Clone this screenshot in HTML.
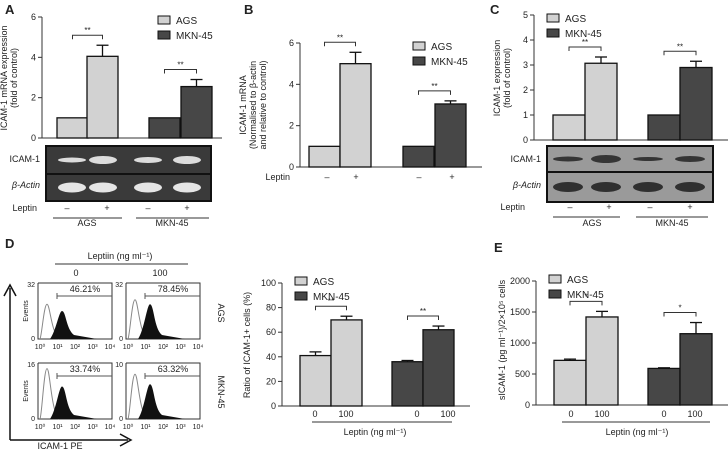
<!DOCTYPE html>
<html><head><meta charset="utf-8">
<style>
html,body{margin:0;padding:0;background:#fff;}
svg{display:block;font-family:"Liberation Sans",Arial,sans-serif;}
text{fill:#222;}
</style></head>
<body>
<svg id="fig" width="728" height="452" viewBox="0 0 728 452" xmlns="http://www.w3.org/2000/svg"></svg>
<script>
// ---- data ----
const groupsA = ["AGS","MKN-45"];
const valuesA = [1, 4.05, 1, 2.55];
const errorsA = [0, 0.55, 0, 0.35];
const ticksA = [0,2,4,6];
const valuesB = [1, 5.0, 1, 3.05];
const errorsB = [0, 0.55, 0, 0.15];
const ticksB = [0,2,4,6];
const valuesC = [1, 3.07, 1, 2.9];
const errorsC = [0, 0.25, 0, 0.25];
const ticksC = [0,1,2,3,4,5];
const valuesD = [41, 70, 36, 62];
const errorsD = [3, 3, 1, 3];
const ticksD = [0,20,40,60,80,100];
const valuesE = [720, 1420, 590, 1150];
const errorsE = [20, 90, 10, 180];
const ticksE = [0,500,1000,1500,2000];
const sigA = ["**","**"], sigE = ["*","*"];
const flowPercents = ["46.21%","78.45%","33.74%","63.32%"];
const flowLogTicks = ["10⁰","10¹","10²","10³","10⁴"];
const flowYmax = ["32","32","16","10"];

const svg = document.getElementById('fig');
const NS = "http://www.w3.org/2000/svg";
function el(tag, attrs, parent){
  const e = document.createElementNS(NS, tag);
  for (const k in attrs) e.setAttribute(k, attrs[k]);
  (parent||svg).appendChild(e);
  return e;
}
function txt(x,y,s,size,anchor,extra,parent){
  const t = el('text', Object.assign({x:x,y:y,'font-size':size||9,'text-anchor':anchor||'middle'}, extra||{}), parent);
  t.textContent = s;
  return t;
}

function barChart(o){
  const g = el('g', {});
  
  
  const ymax = o.ticks[o.ticks.length-1];
  const ys = v => o.y0 - (v/ymax)*(o.y0-o.yTop);
  el('line',{x1:o.ax,y1:o.yTop,x2:o.ax,y2:o.y0,stroke:'#333','stroke-width':1},g);
  el('line',{x1:o.ax,y1:o.y0,x2:o.axEnd,y2:o.y0,stroke:'#333','stroke-width':1},g);
  o.ticks.forEach(t=>{
    const y = ys(t);
    el('line',{x1:o.ax-4,y1:y,x2:o.ax,y2:y,stroke:'#333'},g);
    const tt = txt(o.ax-6,y+3,String(t),9,'end',{},g);
    
    
  });
  o.values.forEach((v,i)=>{
    const x = o.bx[i], w = o.bw;
    const r = el('rect',{x:x,y:ys(v),width:w,height:o.y0-ys(v),fill:i<2?'#d2d2d2':'#474747',stroke:'#111','stroke-width':1.3},g);
    
    
    if (o.errors[i]>0){
      const ey = ys(v+o.errors[i]);
      el('line',{x1:x+w/2,y1:ys(v),x2:x+w/2,y2:ey,stroke:'#111','stroke-width':1.3},g);
      el('line',{x1:x+w/2-6,y1:ey,x2:x+w/2+6,y2:ey,stroke:'#111','stroke-width':1.3},g);
    }
  });
  [0,2].forEach((i,k)=>{
    const x1 = o.bx[i]+o.bw/2, x2 = o.bx[i+1]+o.bw/2;
    const top = ys(o.values[i+1]+o.errors[i+1]) - 10;
    el('path',{d:`M${x1} ${top+4}V${top}H${x2}V${top+4}`,fill:'none',stroke:'#333'},g);
    txt((x1+x2)/2,top-2,o.sig[k],8,'middle',{},g);
  });
  [["AGS",'#d2d2d2'],["MKN-45",'#474747']].forEach((L,k)=>{
    const ly = o.legY + k*15;
    const r = el('rect',{x:o.legX,y:ly,width:12,height:8,fill:L[1],stroke:'#111'},g);
    
    
    txt(o.legX+18,ly+8,L[0],10,'start',{},g);
  });
  const lines = o.ylabel;
  lines.forEach((s,k)=>{
    const x = o.ylx + k*10 - (lines.length-1)*5;
    const t = txt(x,o.yly,s,9,'middle',{transform:`rotate(-90 ${x} ${o.yly})`},g);
    
    
  });
  return g;
}

[["A",5,14],["B",244,14],["C",490,14],["D",5,248],["E",494,252]].forEach(p=>{
  const t = txt(p[1],p[2],p[0],13,'start',{'font-weight':'bold'});
  
  
});

barChart({name:'chart-a',values:valuesA,errors:errorsA,ticks:ticksA,ax:42,axEnd:222,y0:138,yTop:17,bx:[57,87,149,181],bw:31,sig:sigA,legX:158,legY:16,ylabel:["ICAM-1 mRNA expression","(fold of control)"],ylx:12,yly:78});
barChart({name:'chart-b',values:valuesB,errors:errorsB,ticks:ticksB,ax:300,axEnd:482,y0:167,yTop:43,bx:[309,340,403,435],bw:31,sig:sigA,legX:413,legY:42,ylabel:["ICAM-1 mRNA","(Normalised to β-actin","and relative to control)"],ylx:256,yly:105});
barChart({name:'chart-c',values:valuesC,errors:errorsC,ticks:ticksC,ax:534,axEnd:728,y0:140,yTop:15,bx:[553,585,648,680],bw:32,sig:sigA,legX:547,legY:14,ylabel:["ICAM-1 expression","(fold of control)"],ylx:505,yly:78});
barChart({name:'chart-d-bars',values:valuesD,errors:errorsD,ticks:ticksD,ax:282,axEnd:470,y0:406,yTop:283,bx:[300,331,392,423],bw:31,sig:sigA,legX:295,legY:277,ylabel:["Ratio of ICAM-1+ cells (%)"],ylx:250,yly:345});
barChart({name:'chart-e',values:valuesE,errors:errorsE,ticks:ticksE,ax:536,axEnd:728,y0:405,yTop:281,bx:[554,586,648,680],bw:32,sig:sigE,legX:549,legY:275,ylabel:["sICAM-1 (pg ml⁻¹)/2×10⁵ cells"],ylx:505,yly:340});

function gel(name,x,y,w,h,split,bg,bandColor,bx,bw,widths){
  const g = el('g',{});
  
  
  el('rect',{x:x,y:y,width:w,height:h,fill:bg,stroke:'#111','stroke-width':2},g);
  el('line',{x1:x,y1:split,x2:x+w,y2:split,stroke:'#111','stroke-width':2},g);
  bx.forEach((cx,i)=>{
    el('ellipse',{cx:cx,cy:(y+split)/2,rx:bw/2,ry:widths[i],fill:bandColor,opacity:0.9},g);
    el('ellipse',{cx:cx,cy:(split+y+h)/2,rx:bw/2,ry:5,fill:bandColor,opacity:0.95},g);
  });
}
gel('gel-a',46,146,165,55,174,'#3a3a3a','#eeeeee',[72,103,148,187],28,[2.5,4,3,4]);
gel('gel-c',547,146,166,56,172,'#9a9a9a','#2a2a2a',[568,606,648,690],30,[2.5,4,2,3]);
txt(40,162,'ICAM-1',9,'end'); txt(40,188,'β-Actin',9,'end',{'font-style':'italic'});
txt(541,162,'ICAM-1',9,'end'); txt(541,188,'β-Actin',9,'end',{'font-style':'italic'});

function signs(y,labelX,xs,lineSegs,groupY,groupXs){
  txt(labelX,y,'Leptin',9,'end');
  ['–','+','–','+'].forEach((s,i)=>txt(xs[i],y,s,9));
  lineSegs.forEach(s=>el('line',{x1:s[0],y1:y+7,x2:s[1],y2:y+7,stroke:'#333'}));
  if (groupY) ["AGS","MKN-45"].forEach((s,i)=>txt(groupXs[i],groupY,s,9));
}
signs(211,37,[67,107,148,187],[[53,122],[136,209]],226,[87,172]);
signs(180,290,[327,356,419,452],[],0);
signs(210,525,[570,609,650,690],[[553,620],[636,708]],226,[592,672]);
[[315,346,417,448,312,452,375],[571,602,664,695,562,710,637]].forEach(a=>{
  txt(a[0],417,'0',9); txt(a[1],417,'100',9); txt(a[2],417,'0',9); txt(a[3],417,'100',9);
  el('line',{x1:a[4],y1:422,x2:a[5],y2:422,stroke:'#333'});
  txt(a[6],435,'Leptin (ng ml⁻¹)',9);
});

const fg = el('g',{});


txt(120,259,'Leptiin (ng ml⁻¹)',9,'middle',{},fg);
el('line',{x1:55,y1:264,x2:188,y2:264,stroke:'#333'},fg);
txt(76,276,'0',9,'middle',{},fg); txt(160,276,'100',9,'middle',{},fg);
const boxes = [[38,283],[126,283],[38,363],[126,363]];
const boxW = 74, boxH = 56;
const ctrlPeak = [0.62,0.7,0.9,0.8];
const sampPeak = [0.5,0.62,0.58,0.62];
boxes.forEach((b,i)=>{
  const [x,y] = b;
  el('path',{d:`M${x} ${y}V${y+boxH}H${x+boxW}V${y}H${x}`,fill:'none',stroke:'#333'},fg);
  txt(x-3,y+4,flowYmax[i],7,'end',{},fg); txt(x-3,y+boxH+2,'0',7,'end',{},fg);
  const x0 = x+2, x1p = x + 9, x2p = x + 24;
  const ch = ctrlPeak[i]*boxH;
  el('path',{d:`M${x0} ${y+boxH}C${x1p-5} ${y+boxH-5} ${x1p-3} ${y+boxH-ch} ${x1p} ${y+boxH-ch}C${x1p+3} ${y+boxH-ch} ${x1p+4} ${y+boxH-8} ${x1p+12} ${y+boxH}`,fill:'none',stroke:'#888','stroke-width':1},fg);
  const sh = sampPeak[i]*boxH;
  el('path',{d:`M${x2p-12} ${y+boxH}C${x2p-6} ${y+boxH-8} ${x2p-3} ${y+boxH-sh} ${x2p} ${y+boxH-sh}C${x2p+4} ${y+boxH-sh} ${x2p+4} ${y+boxH-10} ${x2p+12} ${y+boxH-4}L${x2p+35} ${y+boxH}Z`,fill:'#111'},fg);
  el('path',{d:`M${x+19} ${y+10}V${y+16}M${x+19} ${y+13}H${x+boxW}`,fill:'none',stroke:'#555'},fg);
  txt(x+47,y+9,flowPercents[i],9,'middle',{},fg);
  flowLogTicks.forEach((s,k)=>txt(x+2+k*17.5,y+boxH+10,s,7,'middle',{},fg));
});
[[28,311],[28,391]].forEach(p=>txt(p[0],p[1],'Events',7,'middle',{transform:`rotate(-90 ${p[0]} ${p[1]})`},fg));
[[218,313,'AGS'],[218,392,'MKN-45']].forEach(p=>txt(p[0],p[1],p[2],9,'middle',{transform:`rotate(90 ${p[0]} ${p[1]})`},fg));
el('path',{d:'M10 440V288M10 440H128',fill:'none',stroke:'#111','stroke-width':1.5},fg);
el('path',{d:'M4 296L10 285L16 296M120 434L131 440L120 446',fill:'none',stroke:'#111','stroke-width':1.5},fg);
txt(60,449,'ICAM-1 PE',9,'middle',{},fg);
</script>
</body></html>
